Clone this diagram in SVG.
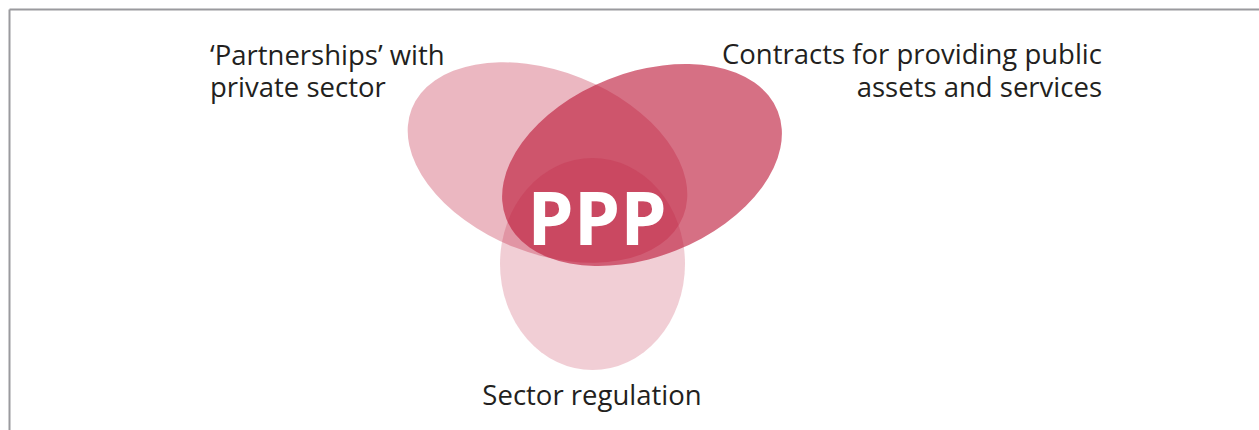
<svg xmlns="http://www.w3.org/2000/svg" width="1259" height="430" viewBox="0 0 1259 430">
<style>
.lbl{font-family:"Open Sans","Liberation Sans",sans-serif;font-size:27.5px;fill:#231f20}
.petal{fill:#bd1838}
.ppp{font-family:"Open Sans","Liberation Sans",sans-serif;font-size:74px;font-weight:bold;fill:#ffffff}
</style>
<rect x="0" y="0" width="1259" height="430" fill="#ffffff"/>
<g id="frame" stroke="#9a9a9e" stroke-width="2" fill="none">
<line x1="9.5" y1="9.5" x2="1259" y2="9.5"/>
<line x1="9.5" y1="9.5" x2="9.5" y2="430"/>
</g>
<g id="node-partnerships">
<ellipse class="petal" fill-opacity="0.31" cx="547.5" cy="162.5" rx="146" ry="91" transform="rotate(21.6 547.5 162.5)"/>
<text class="lbl" x="210" y="64.5">‘Partnerships’ with</text>
<text class="lbl" x="210" y="97">private sector</text>
</g>
<g id="node-contracts">
<ellipse class="petal" fill-opacity="0.62" cx="642" cy="165" rx="146" ry="92" transform="rotate(-21.6 642 165)"/>
<text class="lbl" x="1102" y="64" text-anchor="end">Contracts for providing public</text>
<text class="lbl" x="1102" y="97" text-anchor="end">assets and services</text>
</g>
<g id="node-regulation">
<ellipse class="petal" fill-opacity="0.21" cx="592.5" cy="264" rx="92.5" ry="106"/>
<text class="lbl" x="592" y="405" text-anchor="middle">Sector regulation</text>
</g>
<g id="node-ppp">
<text class="ppp" x="597" y="245" text-anchor="middle">PPP</text>
</g>
<g id="connectors"></g>
</svg>
